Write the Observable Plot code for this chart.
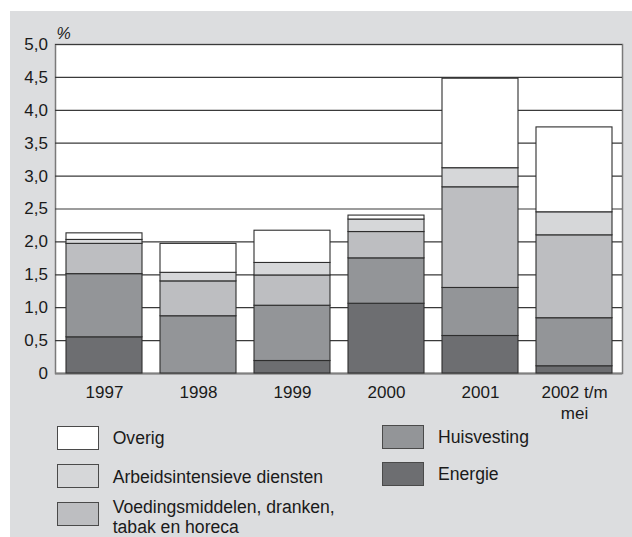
<!DOCTYPE html>
<html>
<head>
<meta charset="utf-8">
<script src="https://cdn.jsdelivr.net/npm/d3@7"></script>
<script src="https://cdn.jsdelivr.net/npm/@observablehq/plot@0.6"></script>
<style>
  html, body { margin: 0; padding: 0; background: #ffffff; }
  body { width: 632px; height: 537px; position: relative; overflow: hidden;
         font-family: "Liberation Sans", Arial, Helvetica, sans-serif; color: #1a1a1a; }
  #panel { position: absolute; left: 10px; top: 11px; width: 622px; height: 526px; background: #dcdddf; }
  #chart { position: absolute; left: 0; top: 0; }
  #legend { position: absolute; left: 0; top: 0; }
  .sw { position: absolute; width: 40px; height: 22px; border: 1px solid #4a4a4a; }
  .lt { position: absolute; font-size: 17.6px; line-height: 20px; white-space: nowrap; }
</style>
</head>
<body>
<div id="panel">
  <div id="chart"></div>
  <div id="legend"></div>
</div>
<script>
const years = ["1997", "1998", "1999", "2000", "2001", "2002"];
const yearLabels = ["1997", "1998", "1999", "2000", "2001", "2002 t/m\nmei"];
const seriesNames = ["Energie", "Huisvesting", "Voedingsmiddelen, dranken, tabak en horeca", "Arbeidsintensieve diensten", "Overig"];
const energie     = [0.55, 0.00, 0.19, 1.06, 0.57, 0.11];
const huisvesting = [0.96, 0.87, 0.84, 0.69, 0.73, 0.73];
const voeding     = [0.46, 0.53, 0.46, 0.40, 1.53, 1.26];
const arbeid      = [0.06, 0.13, 0.19, 0.19, 0.29, 0.35];
const overig      = [0.10, 0.44, 0.49, 0.06, 1.36, 1.29];
const yTicks = [0, 0.5, 1, 1.5, 2, 2.5, 3, 3.5, 4, 4.5, 5];
const colors = ["#6d6e71", "#939598", "#bdbec1", "#d6d7d9", "#ffffff"];

const seriesValues = [energie, huisvesting, voeding, arbeid, overig];
const rows = [];
seriesNames.forEach((s, i) => years.forEach((y, j) => rows.push({year: y, series: s, value: seriesValues[i][j]})));
const labelOf = new Map(years.map((y, i) => [y, yearLabels[i]]));
const fmt = v => v === 0 ? "0" : d3.format(".1f")(v).replace(".", ",");

const chart = Plot.plot({
  width: 622,
  height: 412,
  marginLeft: 45,
  marginRight: 10,
  marginTop: 33,
  marginBottom: 50,
  style: {background: "transparent", fontFamily: "'Liberation Sans', Arial, sans-serif", color: "#1a1a1a"},
  x: {domain: years, paddingInner: 0.193, paddingOuter: 0.106, axis: null, label: null},
  y: {domain: [0, 5], axis: null, label: null},
  color: {domain: seriesNames, range: colors},
  marks: [
    Plot.frame({fill: "white", stroke: "#7a7a7a", strokeWidth: 1.5}),
    Plot.ruleY(yTicks.filter(d => d > 0), {stroke: "#3a3a3a", strokeWidth: 1.2}),
    Plot.ruleY([0], {stroke: "#808080", strokeWidth: 2}),
    Plot.barY(rows, {x: "year", y: "value", fill: "series", order: seriesNames, stroke: "#2e2e2e", strokeWidth: 1.1}),
    Plot.axisY({ticks: yTicks, tickSize: 0, tickPadding: 7.5, fontSize: 17, tickFormat: fmt, label: null}),
    Plot.axisX({tickSize: 0, tickPadding: 9, fontSize: 17, lineHeight: 1.25, tickFormat: d => labelOf.get(d), label: null}),
    Plot.text(["%"], {frameAnchor: "top-left", dx: 1, dy: -17, fontSize: 16, fontStyle: "italic"})
  ]
});
document.getElementById("chart").appendChild(chart);

const legendItems = [
  {color: colors[4], sx: 46.7, sy: 414.7, tx: 102.7, ty: 416.5, text: "Overig"},
  {color: colors[3], sx: 46.7, sy: 453, tx: 102.7, ty: 455.5, text: "Arbeidsintensieve diensten"},
  {color: colors[2], sx: 46.7, sy: 491, tx: 102.7, ty: 486, text: "Voedingsmiddelen, dranken,<br>tabak en horeca"},
  {color: colors[1], sx: 371.7, sy: 414, tx: 428, ty: 415.5, text: "Huisvesting"},
  {color: colors[0], sx: 371.7, sy: 451, tx: 428, ty: 452.5, text: "Energie"}
];
const lg = document.getElementById("legend");
legendItems.forEach(it => {
  const s = document.createElement("div");
  s.className = "sw";
  s.style.left = it.sx + "px"; s.style.top = it.sy + "px"; s.style.background = it.color;
  lg.appendChild(s);
  const t = document.createElement("div");
  t.className = "lt";
  t.style.left = it.tx + "px"; t.style.top = it.ty + "px";
  t.innerHTML = it.text;
  lg.appendChild(t);
});
</script>
</body>
</html>
